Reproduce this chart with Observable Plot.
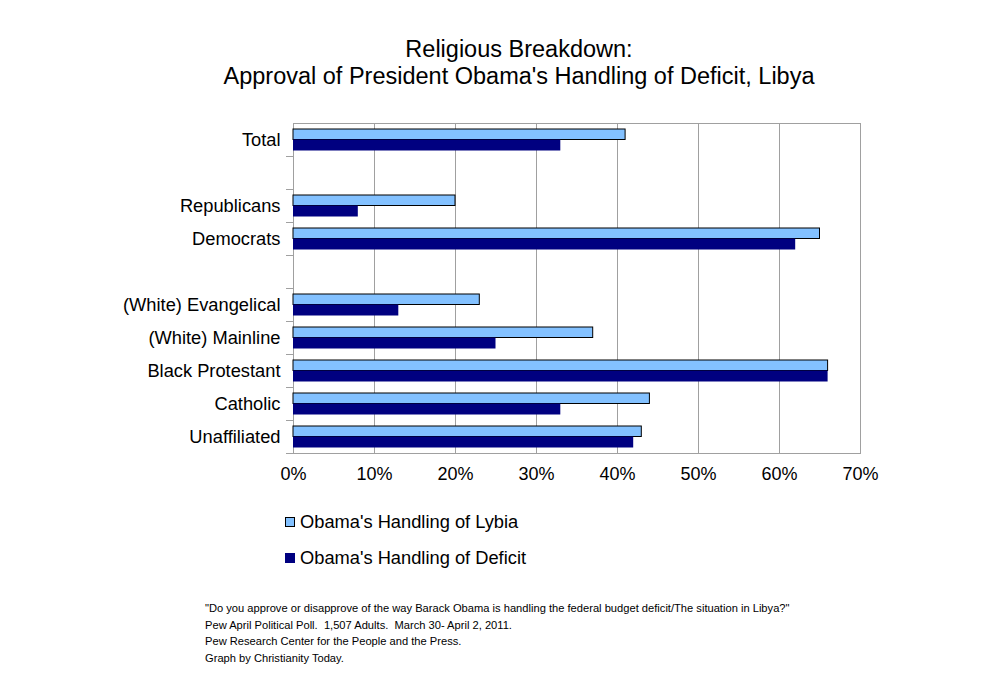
<!DOCTYPE html>
<html>
<head>
<meta charset="utf-8">
<script src="https://cdn.jsdelivr.net/npm/d3@7"></script>
<script src="https://cdn.jsdelivr.net/npm/@observablehq/plot@0.6"></script>
<style>
  body { margin: 0; background: #fff; font-family: "Liberation Sans", Arial, sans-serif; }
  #wrap { position: relative; width: 1000px; height: 700px; overflow: hidden; }
  #title { position: absolute; left: 0; width: 1038px; top: 36px; text-align: center; font-size: 23.5px; line-height: 27px; color: #000; }
  #chart { position: absolute; left: 0; top: 100px; }
  #legend { position: absolute; left: 285px; top: 512px; font-size: 18.3px; color: #000; }
  .item { display: flex; align-items: center; height: 20px; margin-bottom: 16px; }
  .sw { width: 10px; height: 10px; margin-right: 5px; box-sizing: border-box; }
  #caption { position: absolute; left: 205px; top: 600px; font-size: 11.15px; line-height: 16.7px; color: #000; }
</style>
</head>
<body>
<div id="wrap">
  <div id="title">Religious Breakdown:<br>Approval of President Obama's Handling of Deficit, Libya</div>
  <div id="chart"></div>
  <div id="legend"></div>
  <div id="caption">"Do you approve or disapprove of the way Barack Obama is handling the federal budget deficit/The situation in Libya?"<br>Pew April Political Poll.&nbsp; 1,507 Adults.&nbsp; March 30- April 2, 2011.<br>Pew Research Center for the People and the Press.<br>Graph by Christianity Today.</div>
</div>
<script>
const categories = ["Total", " ", "Republicans", "Democrats", "  ", "(White) Evangelical", "(White) Mainline", "Black Protestant", "Catholic", "Unaffiliated"];
const libya   = [41, null, 20, 65, null, 23, 37, 66, 44, 43];
const deficit = [33, null, 8, 62, null, 13, 25, 66, 33, 42];
const seriesNames = ["Obama's Handling of Lybia", "Obama's Handling of Deficit"];
const seriesColors = ["#83C1FF", "#000080"];
const xTicks = [0, 10, 20, 30, 40, 50, 60, 70];

const libyaRows = categories.map((c, i) => ({category: c, value: libya[i]})).filter(d => d.value != null);
const deficitRows = categories.map((c, i) => ({category: c, value: deficit[i]})).filter(d => d.value != null);

const chart = Plot.plot({
  width: 1000,
  height: 393,
  marginTop: 23,
  marginBottom: 40,
  marginLeft: 293,
  marginRight: 140,
  style: {fontFamily: "'Liberation Sans', Arial, sans-serif", fontSize: "18px", color: "#000", background: "#fff"},
  x: {domain: [0, 70], ticks: xTicks},
  y: {domain: categories, padding: 0},
  marks: [
    Plot.ruleX(xTicks, {stroke: "#a0a0a0", strokeWidth: 1}),
    Plot.frame({stroke: "#a0a0a0", strokeWidth: 1}),
    Plot.barX(libyaRows, {y: "category", x: "value", fill: seriesColors[0], stroke: "#000", strokeWidth: 1, insetTop: 6, insetBottom: 16.5}),
    Plot.barX(deficitRows, {y: "category", x: "value", fill: seriesColors[1], insetTop: 16.5, insetBottom: 5.5}),
    Plot.axisX({ticks: xTicks, tickSize: 0, tickPadding: 14, tickFormat: d => d + "%", fontSize: 18, label: null}),
    Plot.axisY({tickSize: 0, tickPadding: 13, tickFormat: d => d.trim(), fontSize: 18.3, label: null}),
    Plot.axisY({tickSize: 7, tickFormat: () => "", stroke: "#a0a0a0", dy: 16.5, label: null})
  ]
});
document.getElementById("chart").appendChild(chart);

const legend = document.getElementById("legend");
seriesNames.forEach((name, i) => {
  const item = document.createElement("div");
  item.className = "item";
  const sw = document.createElement("div");
  sw.className = "sw";
  sw.style.background = seriesColors[i];
  sw.style.border = i === 0 ? "1px solid #000" : "none";
  const t = document.createElement("span");
  t.textContent = name;
  item.appendChild(sw);
  item.appendChild(t);
  legend.appendChild(item);
});
</script>
</body>
</html>
